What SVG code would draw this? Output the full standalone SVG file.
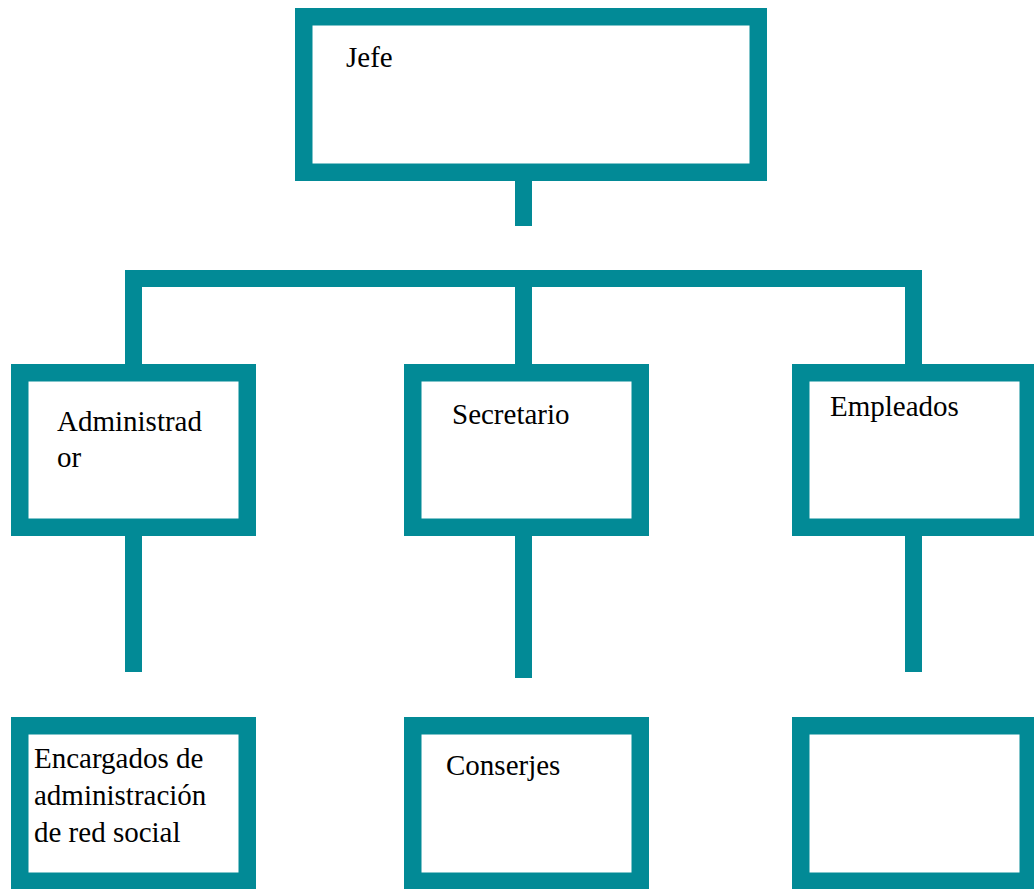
<svg xmlns="http://www.w3.org/2000/svg" width="1034" height="889" viewBox="0 0 1034 889">
<style>
.box{fill:#ffffff;stroke:#028a96;stroke-width:17.5}
.conn{fill:#028a96}
.lbl{font-size:29px;fill:#000000}
</style>
<rect width="1034" height="889" fill="#ffffff"/>
<g id="connectors">
<rect class="conn" x="515" y="178" width="17" height="48"/>
<rect class="conn" x="125" y="270" width="797" height="17"/>
<rect class="conn" x="125" y="270" width="17" height="96"/>
<rect class="conn" x="515" y="270" width="17" height="96"/>
<rect class="conn" x="905" y="270" width="17" height="96"/>
<rect class="conn" x="125" y="534" width="17" height="138"/>
<rect class="conn" x="515" y="534" width="17" height="144"/>
<rect class="conn" x="905" y="534" width="17" height="138"/>
</g>
<g font-family="'Liberation Serif', 'Times New Roman', 'DejaVu Serif', serif">
<g id="jefe">
<rect class="box" x="303.75" y="16.75" width="454.5" height="155.5"/>
<text class="lbl" x="346" y="67">Jefe</text>
</g>
<g id="administrador">
<rect class="box" x="19.75" y="372.75" width="227.5" height="154.5"/>
<text class="lbl" x="57" y="431">Administrad</text>
<text class="lbl" x="57" y="467">or</text>
</g>
<g id="secretario">
<rect class="box" x="412.75" y="372.75" width="227.5" height="154.5"/>
<text class="lbl" x="452" y="424">Secretario</text>
</g>
<g id="empleados">
<rect class="box" x="800.75" y="372.75" width="227.5" height="154.5"/>
<text class="lbl" x="830" y="416">Empleados</text>
</g>
<g id="encargados">
<rect class="box" x="19.75" y="725.75" width="227.5" height="155.5"/>
<text class="lbl" x="34" y="768">Encargados de</text>
<text class="lbl" x="34" y="805">administración</text>
<text class="lbl" x="34" y="842">de red social</text>
</g>
<g id="conserjes">
<rect class="box" x="412.75" y="725.75" width="227.5" height="155.5"/>
<text class="lbl" x="446" y="775">Conserjes</text>
</g>
<g id="empty">
<rect class="box" x="800.75" y="725.75" width="227.5" height="155.5"/>
</g>
</g>
</svg>
